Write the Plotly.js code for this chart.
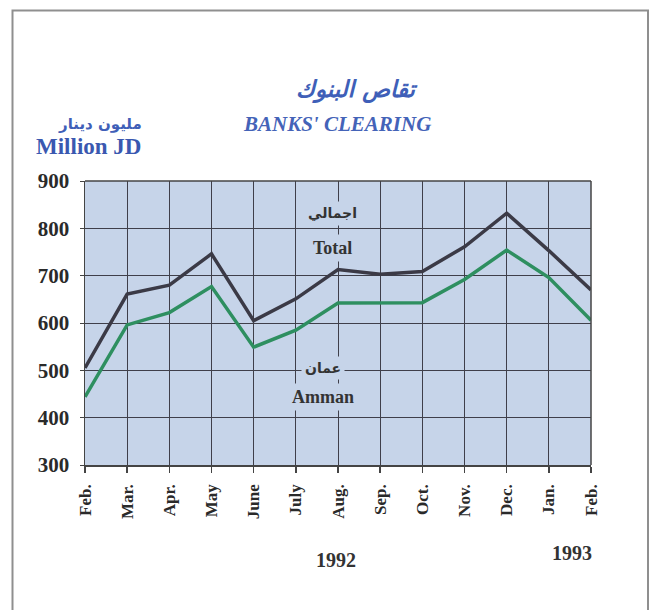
<!DOCTYPE html>
<html>
<head>
<meta charset="utf-8">
<script src="https://cdn.plot.ly/plotly-3.0.1.min.js"></script>
<style>
html,body{margin:0;padding:0;background:#fff;}
#chart{width:656px;height:610px;}
</style>
</head>
<body>
<div id="chart"></div>
<script>
const months = ["Feb.","Mar.","Apr.","May","June","July","Aug.","Sep.","Oct.","Nov.","Dec.","Jan.","Feb."];
const total  = [505, 661, 680, 746, 605, 651, 713, 703, 709, 761, 832, 753, 670];
const amman  = [444, 596, 622, 677, 549, 585, 642, 642, 643, 692, 754, 696, 606];
const yTicks = [300, 400, 500, 600, 700, 800, 900];

const xs = months.map((_, i) => i);
const plotBg = "#c6d4e9";
const serif = "Liberation Serif, Times New Roman, serif";
const arab = "DejaVu Sans, sans-serif";

const traces = [
  {x: xs, y: total, type: "scatter", mode: "lines", line: {color: "#3b3a46", width: 3.5}, hoverinfo: "skip"},
  {x: xs, y: amman, type: "scatter", mode: "lines", line: {color: "#2e8f60", width: 3.5}, hoverinfo: "skip"}
];

// plot area px: x 85..591, y 181..465
const L = 85, R = 591, T = 181, B = 465;
const px = v => (v - L) / (R - L);
const py = v => (B - v) / (B - T);

function pa(text, x, y, font) {
  return {text, xref: "paper", yref: "paper", x: px(x), y: py(y),
          xanchor: "center", yanchor: "middle", showarrow: false, font};
}
function da(text, x, y, font) {
  return {text, xref: "x", yref: "y", x, y, xanchor: "center", yanchor: "middle",
          showarrow: false, bgcolor: plotBg, borderpad: 3, font};
}

const layout = {
  width: 656, height: 610,
  margin: {l: L, r: 656 - R, t: T, b: 610 - B, pad: 0},
  paper_bgcolor: "#ffffff",
  plot_bgcolor: plotBg,
  showlegend: false,
  xaxis: {
    range: [0, 12], tickmode: "array", tickvals: xs, ticktext: months,
    tickangle: -90, ticks: "outside", ticklen: 6, tickcolor: "#444", tickwidth: 1.5,
    ticklabelstandoff: 5,
    showgrid: true, gridcolor: "#3f3f4a", gridwidth: 1,
    showline: true, linecolor: "#444", linewidth: 1.5, mirror: false,
    zeroline: false, fixedrange: true,
    tickfont: {family: serif, size: 17, color: "#2a2a2a", weight: "bold"}
  },
  yaxis: {
    range: [300, 900], tickmode: "array", tickvals: yTicks, ticktext: yTicks.map(String),
    ticks: "outside", ticklen: 4, tickcolor: "#444",
    ticklabelstandoff: 6,
    showgrid: true, gridcolor: "#3f3f4a", gridwidth: 1,
    showline: true, linecolor: "#444", linewidth: 1.5,
    zeroline: false, fixedrange: true,
    tickfont: {family: serif, size: 21, color: "#2a2a2a", weight: "bold"}
  },
  shapes: [
    {type: "rect", xref: "paper", yref: "paper",
     x0: px(12.5), x1: px(648), y0: py(640), y1: py(10.5),
     line: {color: "#8f8f8f", width: 2}, fillcolor: "rgba(0,0,0,0)", layer: "below"},
    {type: "line", xref: "paper", yref: "paper", x0: 1, x1: 1, y0: 0, y1: 1,
     line: {color: "#444", width: 1.5}},
    {type: "line", xref: "paper", yref: "paper", x0: 0, x1: 1, y0: 1, y1: 1,
     line: {color: "#444", width: 1.5}}
  ],
  annotations: [
    pa("تقاص البنوك", 357, 90, {family: arab, size: 23, color: "#3f5fb8", style: "italic", weight: "bold"}),
    pa("BANKS' CLEARING", 337, 124, {family: serif, size: 21, color: "#4463b8", style: "italic", weight: "bold"}),
    pa("مليون دينار", 100, 124, {family: arab, size: 15, color: "#3f5fb8", weight: "bold"}),
    pa("Million JD", 88, 146, {family: serif, size: 23, color: "#3a58b0", weight: "bold"}),
    da("اجمالي", 5.86, 832, {family: arab, size: 14, color: "#333", weight: "bold"}),
    da("Total", 5.86, 758, {family: serif, size: 18, color: "#333", weight: "bold"}),
    da("عمان", 5.64, 505, {family: arab, size: 14, color: "#333", weight: "bold"}),
    da("Amman", 5.64, 444, {family: serif, size: 18, color: "#333", weight: "bold"}),
    pa("1992", 336, 560, {family: serif, size: 20, color: "#333", weight: "bold"}),
    pa("1993", 572, 553, {family: serif, size: 20, color: "#333", weight: "bold"})
  ]
};

Plotly.newPlot("chart", traces, layout, {displayModeBar: false, staticPlot: true});
</script>
</body>
</html>
